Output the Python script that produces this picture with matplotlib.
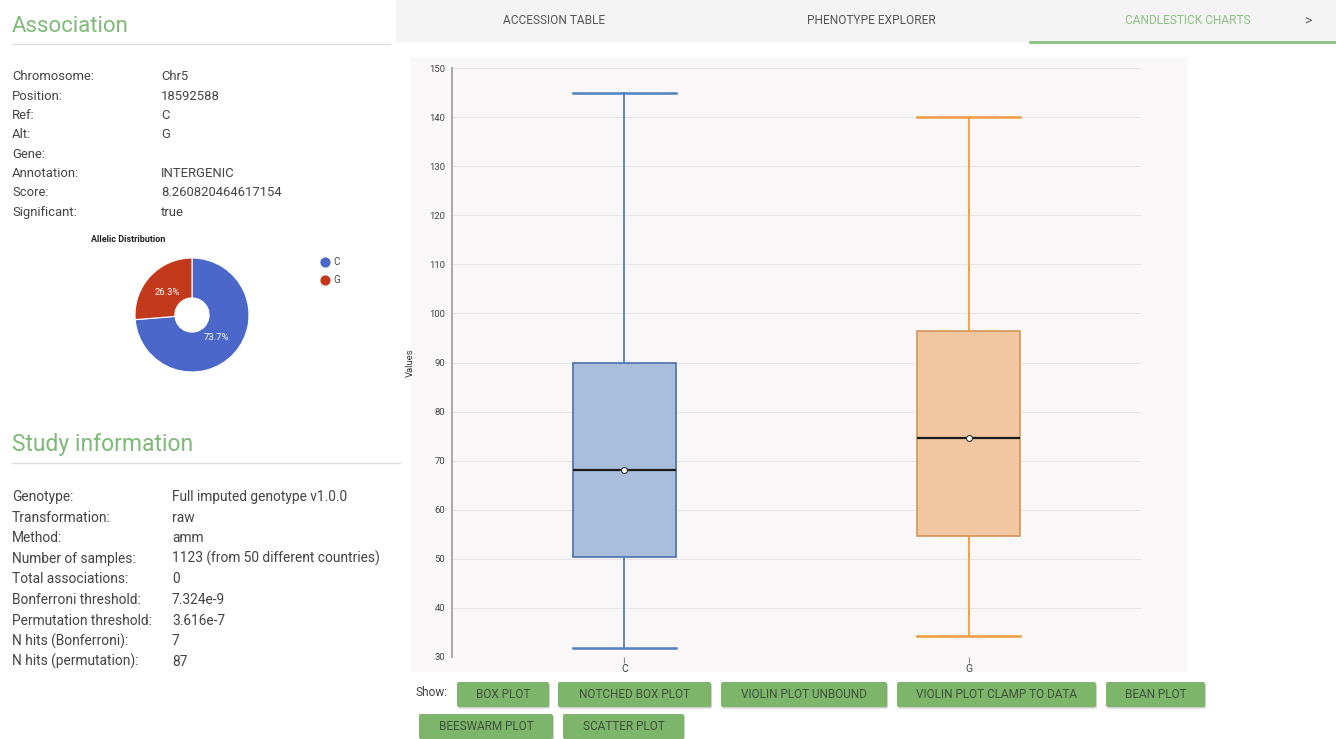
import matplotlib
matplotlib.use('Agg')
import matplotlib.pyplot as plt
from matplotlib.patches import Rectangle, FancyBboxPatch

W, H = 1336, 739
plt.rcParams['font.family'] = ['Roboto', 'DejaVu Sans']

# ---------------- data ----------------
assoc_labels = ["Chromosome:", "Position:", "Ref:", "Alt:", "Gene:",
                "Annotation:", "Score:", "Significant:"]
assoc_values = ["Chr5", "18592588", "C", "G", "", "INTERGENIC",
                "8.260820464617154", "true"]
study_labels = ["Genotype:", "Transformation:", "Method:", "Number of samples:",
                "Total associations:", "Bonferroni threshold:",
                "Permutation threshold:", "N hits (Bonferroni):",
                "N hits (permutation):"]
study_values = ["Full imputed genotype v1.0.0", "raw", "amm",
                "1123 (from 50 different countries)", "0", "7.324e-9",
                "3.616e-7", "7", "87"]
allele_names = ["C", "G"]
allele_share = [73.7, 26.3]
allele_colors = ["#4a67c9", "#c3391b"]
tab_names = ["ACCESSION TABLE", "PHENOTYPE EXPLORER", "CANDLESTICK CHARTS"]
buttons_row1 = ["BOX PLOT", "NOTCHED BOX PLOT", "VIOLIN PLOT UNBOUND",
                "VIOLIN PLOT CLAMP TO DATA", "BEAN PLOT"]
buttons_row2 = ["BEESWARM PLOT", "SCATTER PLOT"]
box_categories = ["C", "G"]
whisker_low = [31.8, 34.3]
q1 = [50.4, 54.6]
median = [68.2, 74.6]
q3 = [89.9, 96.4]
whisker_high = [145.0, 140.0]
y_ticks = list(range(30, 151, 10))

# ---------------- figure ----------------
fig = plt.figure(figsize=(W / 100, H / 100), dpi=100)
fig.patch.set_facecolor('white')
bg = fig.add_axes([0, 0, 1, 1], zorder=0)
bg.set_xlim(0, W)
bg.set_ylim(H, 0)
bg.axis('off')

text_col = '#444444'
green_head = '#7dba78'

# Association panel
bg.text(12, 26, "Association", fontsize=16, color=green_head,
        va='center', ha='left')
bg.plot([12, 390], [44, 44], color='#dddddd', lw=1)
for i, (lab, val) in enumerate(zip(assoc_labels, assoc_values)):
    y = 77 + i * 19.3
    bg.text(12, y, lab, fontsize=9.4, color=text_col, va='center')
    bg.text(161, y, val, fontsize=9.4, color=text_col, va='center')

bg.text(128, 240, "Allelic Distribution", fontsize=6.5, fontweight='bold',
        color='#222222', ha='center', va='center')
for i, (nm, c) in enumerate(zip(allele_names, allele_colors)):
    y = 262 + i * 18
    bg.scatter([325], [y], s=40, color=c, zorder=3)
    bg.text(333, y, nm, fontsize=7, color='#444444', va='center')

# Study information panel
bg.text(12, 444, "Study information", fontsize=16.5, color=green_head,
        va='center', ha='left')
bg.plot([12, 400], [463, 463], color='#dddddd', lw=1)
for i, (lab, val) in enumerate(zip(study_labels, study_values)):
    y = 497 + i * 20.6
    bg.text(12, y, lab, fontsize=9.9, color=text_col, va='center')
    bg.text(172, y, val, fontsize=9.9, color=text_col, va='center')

# Tabs bar
bg.add_patch(Rectangle((396, 0), W - 396, 42, color='#f4f4f4', lw=0))
bg.plot([1030, W], [42, 42], color='#8cc084', lw=2)
tab_x = [554, 871, 1188]
for i, (nm, x) in enumerate(zip(tab_names, tab_x)):
    bg.text(x, 21, nm, fontsize=8.6, ha='center', va='center',
            color='#8cc084' if i == 2 else '#555555')
bg.text(1308, 21, ">", fontsize=10, ha='center', va='center', color='#666666')

# chart panel background
bg.add_patch(Rectangle((410, 57), 778, 615, color='#f9f7f7', lw=0))

# Buttons
btn_col = '#7db56b'
btn_txt = '#3f5139'
bg.text(415, 693, "Show:", fontsize=8.6, color=text_col, va='center')
row1_x = [(457, 549), (558, 711), (721, 887), (897, 1096), (1106, 1205)]
row2_x = [(419, 553), (563, 684)]
for names, xs, (y0, y1) in [(buttons_row1, row1_x, (682, 707)),
                            (buttons_row2, row2_x, (714, 739))]:
    for nm, (x0, x1) in zip(names, xs):
        bg.add_patch(FancyBboxPatch((x0 + 1, y0 + 1.5), x1 - x0, y1 - y0,
                                    boxstyle='round,pad=0,rounding_size=2',
                                    color='#cfcfcf', lw=0))
        bg.add_patch(FancyBboxPatch((x0, y0), x1 - x0, y1 - y0,
                                    boxstyle='round,pad=0,rounding_size=2',
                                    color=btn_col, lw=0))
        bg.text((x0 + x1) / 2, (y0 + y1) / 2, nm, fontsize=8.5,
                color=btn_txt, ha='center', va='center')

# ---------------- pie ----------------
cx, cy, r = 192, 315, 57
pax = fig.add_axes([(cx - r) / W, 1 - (cy + r) / H, 2 * r / W, 2 * r / H], zorder=2)
wedges, texts, autotexts = pax.pie(
    allele_share, colors=allele_colors, startangle=90, counterclock=False,
    radius=1, autopct='%.1f%%', pctdistance=0.58,
    wedgeprops=dict(width=0.7, edgecolor='white', linewidth=0.8),
    textprops=dict(color='white', fontsize=6.8))
pax.set_xlim(-1, 1)
pax.set_ylim(-1, 1)
pax.set_aspect('auto')
pax.axis('off')

# ---------------- box plot ----------------
ax = fig.add_axes([452 / W, 1 - 657 / H, (1141 - 452) / W, (657 - 68) / H], zorder=2)
ax.set_facecolor('none')
stats = []
for i, c in enumerate(box_categories):
    stats.append(dict(label=c, whislo=whisker_low[i], q1=q1[i], med=median[i],
                      q3=q3[i], whishi=whisker_high[i], fliers=[]))
positions = list(range(len(box_categories)))
res = ax.bxp(stats, positions=positions, widths=0.30, capwidths=0.30,
             patch_artist=True, showfliers=False,
             medianprops=dict(color='#1a1a1a', lw=1.6),
             whiskerprops=dict(lw=1.3), capprops=dict(lw=1.8),
             boxprops=dict(lw=1.2))
fills = ['#a9bedb', '#f1c6a0']
edges = ['#4a6fa8', '#d4955c']
lines = ['#4f7fbf', '#f09a3e']
for i in range(len(box_categories)):
    res['boxes'][i].set_facecolor(fills[i])
    res['boxes'][i].set_edgecolor(edges[i])
    for k in (2 * i, 2 * i + 1):
        res['whiskers'][k].set_color(lines[i])
        res['caps'][k].set_color(lines[i])
ax.scatter(positions, median, s=18, facecolor='white', edgecolor='#333333',
           linewidth=0.8, zorder=5)

ax.set_xlim(-0.5, 1.5)
ax.set_ylim(30, 150)
ax.set_yticks(y_ticks)
ax.set_yticklabels([str(t) for t in y_ticks])
ax.yaxis.grid(True, color='#e8e5e5', lw=0.8)
ax.set_axisbelow(True)
ax.set_xticks(positions)
ax.set_xticklabels(box_categories)
for s in ('top', 'right', 'bottom'):
    ax.spines[s].set_visible(False)
ax.spines['left'].set_color('#9a9a9a')
ax.spines['left'].set_linewidth(1.2)
ax.tick_params(axis='y', length=0, pad=5, labelsize=6.8, labelcolor='#444444')
ax.tick_params(axis='x', length=4, width=0.8, color='#888888', pad=1,
               labelsize=7.5, labelcolor='#444444')
ax.set_ylabel("Values", fontsize=6.8, color='#333333', labelpad=10)

fig.savefig('out.png', dpi=100)
